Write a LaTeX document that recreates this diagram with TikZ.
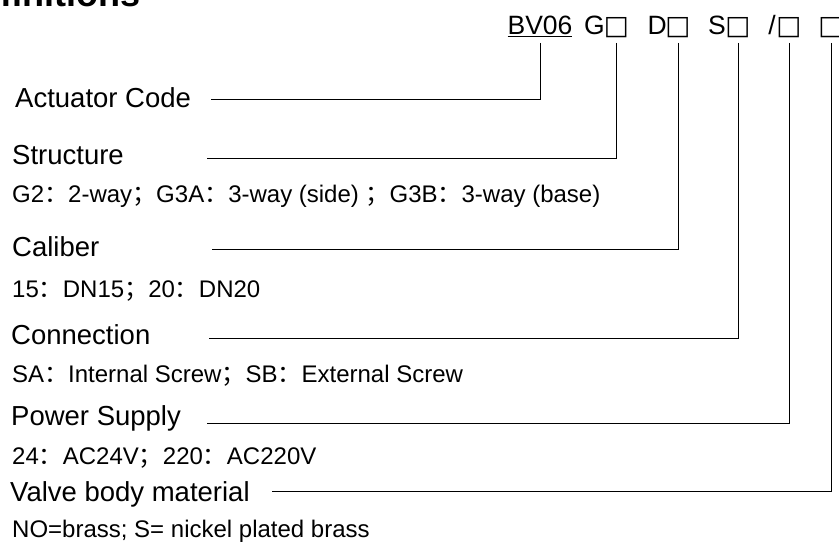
\documentclass[tikz,border=0pt]{standalone}
\usepackage{fontspec}
\setmainfont{Liberation Sans}
\newfontfamily\cjk{Noto Sans CJK SC}
\newfontfamily\glyphfont{DejaVu Sans}
\usepackage{tikz}
\usetikzlibrary{positioning}
\usepackage{xcolor}
\definecolor{lineblack}{RGB}{0,0,0}
\newcommand{\zcolon}{{\cjk ：}}
\newcommand{\zsemi}{{\cjk ；}}
\newcommand{\emptybox}{{\glyphfont □}}

\begin{document}
\begin{tikzpicture}[x=1pt, y=-1pt,
  fieldname/.style={font=\fontsize{27.5}{33}\selectfont, anchor=base west, inner sep=0pt},
  fielddesc/.style={font=\fontsize{24}{29}\selectfont, anchor=base west, inner sep=0pt},
  codepart/.style={font=\fontsize{26.5}{32}\selectfont, anchor=base, inner sep=0pt},
  leader/.style={draw=lineblack, line width=1pt}]
\useasboundingbox (0,0) rectangle (839,545);
\clip (0,0) rectangle (839,545);
\node[font=\fontsize{36}{43}\selectfont\bfseries, anchor=base east, inner sep=0pt] (title) at (141,7) {Definitions};

\node[codepart] (bv) at (540,35) {\underline{BV06}};
\node[codepart, anchor=base east] (g) at (605,35) {G};
\node[codepart] (gbox) at (616.5,35) {\emptybox};
\node[codepart, anchor=base east] (d) at (667,35) {D};
\node[codepart] (dbox) at (678,35) {\emptybox};
\node[codepart, anchor=base east] (s) at (726,35) {S};
\node[codepart] (sbox) at (738,35) {\emptybox};
\node[codepart, anchor=base east] (slash) at (776,35) {/};
\node[codepart] (pbox) at (789,35) {\emptybox};
\node[codepart] (mbox) at (831,35) {\emptybox};

\node[fieldname] (actuator) at (15,108) {Actuator Code};
\node[fieldname] (structure) at (12,165) {Structure};
\node[fielddesc] (structdesc) at (12,203) {G2\zcolon 2-way\zsemi G3A\zcolon 3-way (side) \zsemi G3B\zcolon 3-way (base)};
\node[fieldname] (caliber) at (12,257) {Caliber};
\node[fielddesc] (caldesc) at (12,298) {15\zcolon DN15\zsemi 20\zcolon DN20};
\node[fieldname] (connection) at (11,345) {Connection};
\node[fielddesc] (conndesc) at (12,383) {SA\zcolon Internal Screw\zsemi SB\zcolon External Screw};
\node[fieldname] (power) at (11,426) {Power Supply};
\node[fielddesc] (powdesc) at (12,465) {24\zcolon AC24V\zsemi 220\zcolon AC220V};
\node[fieldname] (material) at (10,501) {Valve body material};
\node[fielddesc] (matdesc) at (12,537) {NO=brass; S= nickel plated brass};

\coordinate (actend) at (211,100);
\coordinate (structend) at (207,159);
\coordinate (calend) at (212,250);
\coordinate (connend) at (209,339);
\coordinate (powend) at (207,424);
\coordinate (matend) at (272,492);

\draw[leader] ([yshift=-8pt]bv.base) |- (actend);
\draw[leader] ([yshift=-8pt]gbox.base) |- (structend);
\draw[leader] ([yshift=-8pt]dbox.base) |- (calend);
\draw[leader] ([yshift=-8pt]sbox.base) |- (connend);
\draw[leader] ([yshift=-8pt]pbox.base) |- (powend);
\draw[leader] ([yshift=-8pt]mbox.base) |- (matend);
\end{tikzpicture}
\end{document}
